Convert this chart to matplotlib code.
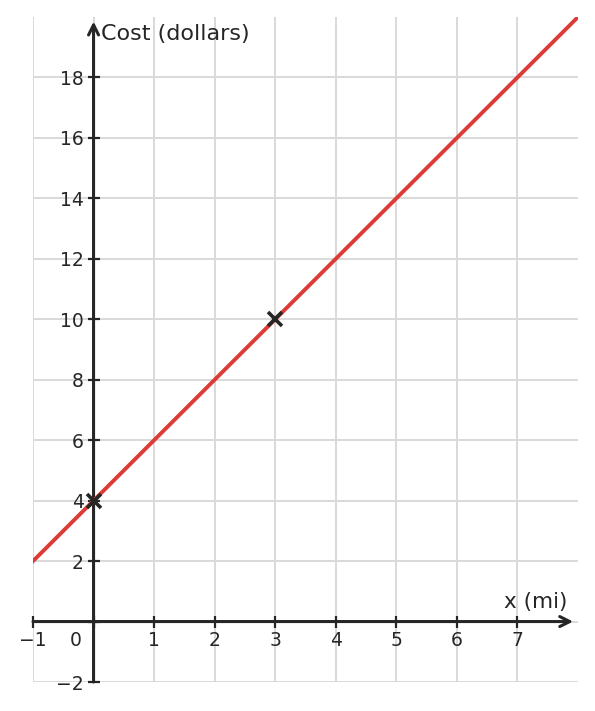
import matplotlib.pyplot as plt
import numpy as np

# line: cost = 2 * miles + 4
line_x = [-1, 8]
line_y = [2, 20]
# marked points
pts_x = [0, 3]
pts_y = [4, 10]

x_ticks = [-1, 0, 1, 2, 3, 4, 5, 6, 7]
y_ticks = [-2, 0, 2, 4, 6, 8, 10, 12, 14, 16, 18]

dark = '#262626'

fig = plt.figure(figsize=(5.95, 7.11), dpi=100)
ax = fig.add_axes([33 / 595, 29 / 711, 545 / 595, 665 / 711])
ax.set_xlim(-1, 8)
ax.set_ylim(-2, 20)

# spines at the origin, but drawn by hand with arrows
ax.spines['left'].set_position('zero')
ax.spines['bottom'].set_position('zero')
for s in ['left', 'bottom', 'right', 'top']:
    ax.spines[s].set_color('none')

def fmt(t):
    if t == 0:
        return ''
    return '\u2212%d' % -t if t < 0 else str(t)

ax.set_xticks(x_ticks)
ax.set_xticklabels([fmt(t) for t in x_ticks])
ax.set_yticks(y_ticks)
ax.set_yticklabels([fmt(t) for t in y_ticks])
ax.tick_params(direction='inout', length=8, width=1.6, color=dark, labelsize=13.5,
               labelcolor=dark, pad=3)
ax.grid(True, color='#d9d9d9', linewidth=1.4, zorder=0)
ax.set_axisbelow(True)

# axis lines with arrow heads
ax.annotate('', xy=(7.92, 0), xytext=(-1, 0),
            arrowprops=dict(arrowstyle='->', color=dark, lw=2.2, mutation_scale=18,
                            shrinkA=0, shrinkB=0))
ax.annotate('', xy=(0, 19.85), xytext=(0, -2),
            arrowprops=dict(arrowstyle='->', color=dark, lw=2.2, mutation_scale=18,
                            shrinkA=0, shrinkB=0))

ax.text(-0.3, -0.3, '0', ha='center', va='top', fontsize=13.5, color=dark)
ax.text(0.13, 19.45, 'Cost (dollars)', ha='left', va='center', fontsize=16, color=dark)
ax.text(7.83, 0.3, 'x (mi)', ha='right', va='bottom', fontsize=15.5, color=dark)

ax.plot(line_x, line_y, color='#dd3b35', linewidth=2.8, zorder=3, clip_on=True)
ax.plot(pts_x, pts_y, linestyle='none', marker='x', markersize=10, mew=2.6,
        color=dark, zorder=4)

plt.savefig('out.png', dpi=100)
